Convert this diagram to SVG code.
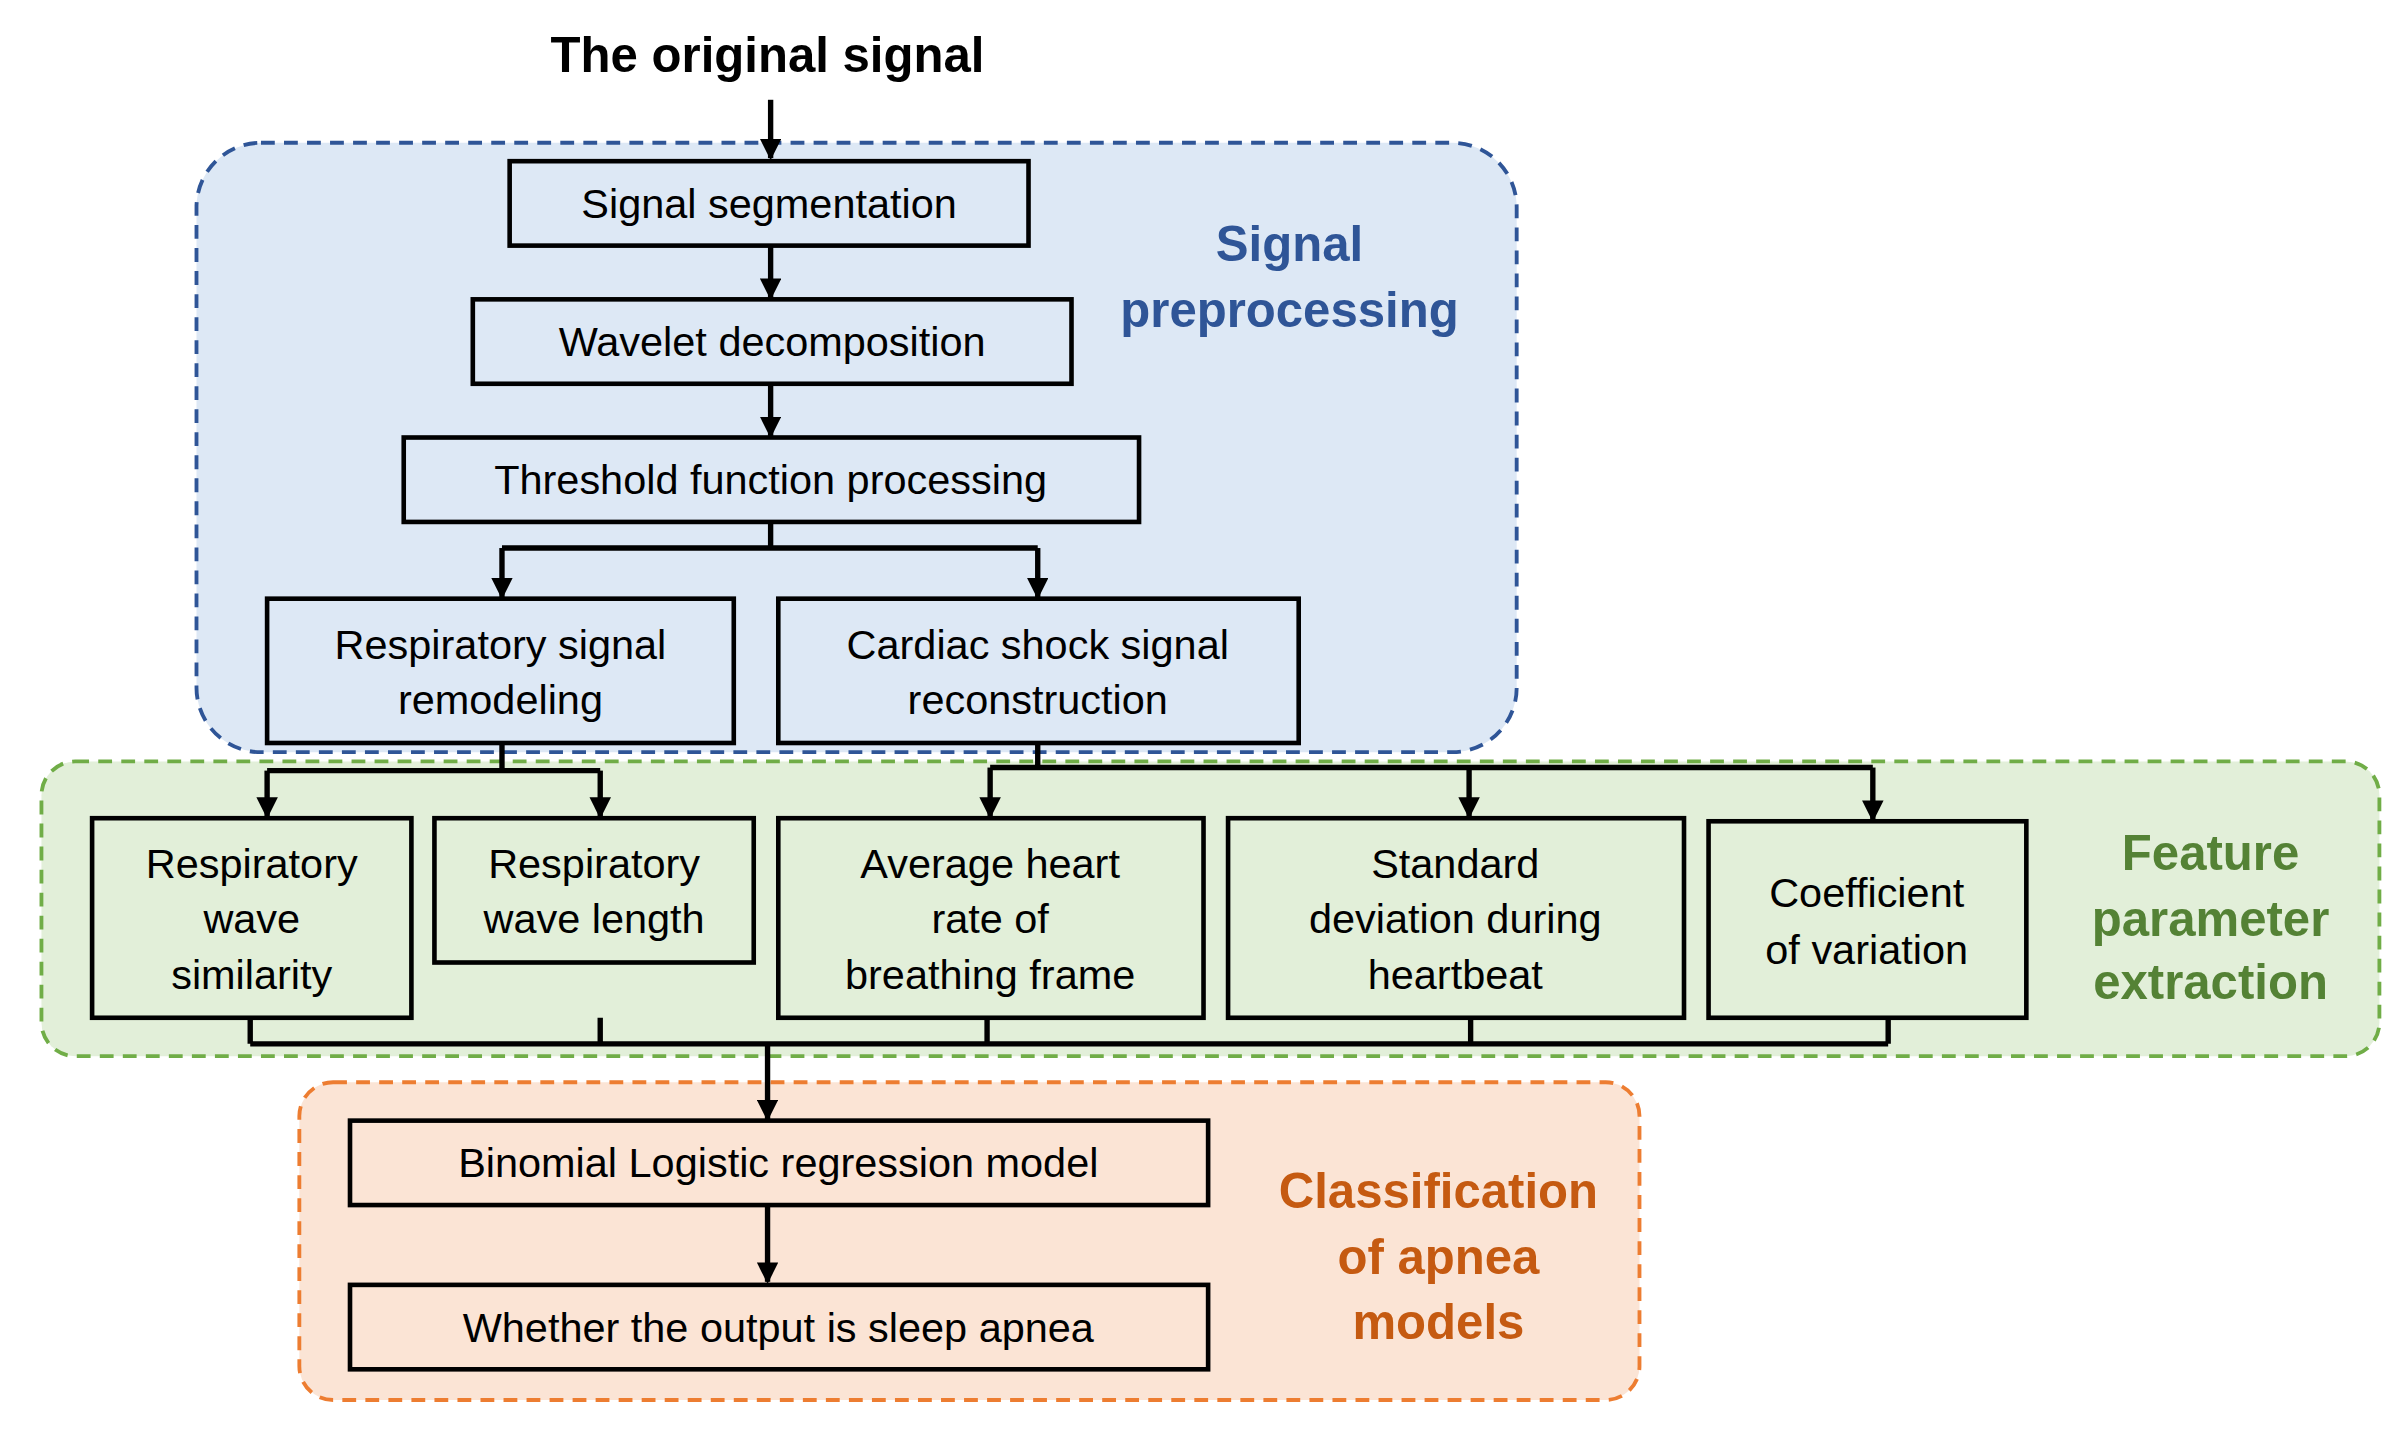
<svg xmlns="http://www.w3.org/2000/svg" width="2407" height="1435" viewBox="0 0 2407 1435">
<defs>
<marker id="ah" viewBox="0 0 10 10" refX="9" refY="5" markerWidth="4" markerHeight="4" orient="auto" markerUnits="strokeWidth"><path d="M0,0 L10,5 L0,10 z" fill="#000"/></marker>
<style>
.n rect{stroke:#000;stroke-width:3}
.t{font-family:"Liberation Sans",Arial,sans-serif;font-size:27px;text-anchor:middle;fill:#000}
.lb{font-family:"Liberation Sans",Arial,sans-serif;font-size:32px;font-weight:bold;text-anchor:middle}
.c path{fill:none;stroke:#000;stroke-width:3.5}
.a{marker-end:url(#ah)}
</style>
</defs>
<rect width="2407" height="1435" fill="#fff"/>
<g transform="scale(1.5351)">
<g id="region-pre"><rect x="128" y="93" width="860" height="397" rx="42" fill="#dde8f5" stroke="#2f5597" stroke-width="2.5" stroke-dasharray="9,6"/>
<text class="lb" fill="#2f5597" x="840" y="170">Signal</text><text class="lb" fill="#2f5597" x="840" y="213">preprocessing</text></g>
<g id="region-feat"><rect x="27" y="496" width="1523" height="192" rx="22" fill="#e2efd9" stroke="#70ad47" stroke-width="2.5" stroke-dasharray="9,6"/>
<text class="lb" fill="#548235" x="1440" y="567">Feature</text><text class="lb" fill="#548235" x="1440" y="610">parameter</text><text class="lb" fill="#548235" x="1440" y="651">extraction</text></g>
<g id="region-cls"><rect x="195" y="705" width="873" height="207" rx="22" fill="#fbe4d5" stroke="#ed7d31" stroke-width="2.5" stroke-dasharray="9,6"/>
<text class="lb" fill="#c55a11" x="937" y="787">Classification</text><text class="lb" fill="#c55a11" x="937" y="830">of apnea</text><text class="lb" fill="#c55a11" x="937" y="872">models</text></g>
<g id="title"><text class="lb" fill="#000" x="500" y="47">The original signal</text></g>
<g class="c" id="connectors">
<path class="a" d="M502,65 V103"/>
<path class="a" d="M502,160 V194"/>
<path class="a" d="M502,250 V284"/>
<path d="M502,340 V357 M327,357 H676"/>
<path class="a" d="M327,357 V389"/><path class="a" d="M676,357 V389"/>
<path d="M327,484 V502 M174,502 H391 M676,484 V500 M645,500 H1220"/>
<path class="a" d="M174,502 V532"/><path class="a" d="M391,502 V532"/>
<path class="a" d="M645,500 V532"/><path class="a" d="M957,500 V532"/><path class="a" d="M1220,500 V534"/>
<path d="M163,663 V680 M391,663 V680 M643,663 V680 M958,663 V680 M1230,663 V680 M163,680 H1230"/>
<path class="a" d="M500,680 V729"/>
<path class="a" d="M500,785 V835"/>
</g>
<g class="n" id="n1"><rect x="332" y="105" width="338" height="55" fill="#dde8f5"/><text class="t" x="501" y="142">Signal segmentation</text></g>
<g class="n" id="n2"><rect x="308" y="195" width="390" height="55" fill="#dde8f5"/><text class="t" x="503" y="232">Wavelet decomposition</text></g>
<g class="n" id="n3"><rect x="263" y="285" width="479" height="55" fill="#dde8f5"/><text class="t" x="502" y="322">Threshold function processing</text></g>
<g class="n" id="n4"><rect x="174" y="390" width="304" height="94" fill="#dde8f5"/><text class="t" x="326" y="429">Respiratory signal</text><text class="t" x="326" y="465">remodeling</text></g>
<g class="n" id="n5"><rect x="507" y="390" width="339" height="94" fill="#dde8f5"/><text class="t" x="676" y="429">Cardiac shock signal</text><text class="t" x="676" y="465">reconstruction</text></g>
<g class="n" id="n6"><rect x="60" y="533" width="208" height="130" fill="#e2efd9"/><text class="t" x="164" y="572">Respiratory</text><text class="t" x="164" y="608">wave</text><text class="t" x="164" y="644">similarity</text></g>
<g class="n" id="n7"><rect x="283" y="533" width="208" height="94" fill="#e2efd9"/><text class="t" x="387" y="572">Respiratory</text><text class="t" x="387" y="608">wave length</text></g>
<g class="n" id="n8"><rect x="507" y="533" width="277" height="130" fill="#e2efd9"/><text class="t" x="645" y="572">Average heart</text><text class="t" x="645" y="608">rate of</text><text class="t" x="645" y="644">breathing frame</text></g>
<g class="n" id="n9"><rect x="800" y="533" width="297" height="130" fill="#e2efd9"/><text class="t" x="948" y="572">Standard</text><text class="t" x="948" y="608">deviation during</text><text class="t" x="948" y="644">heartbeat</text></g>
<g class="n" id="n10"><rect x="1113" y="535" width="207" height="128" fill="#e2efd9"/><text class="t" x="1216" y="591">Coefficient</text><text class="t" x="1216" y="628">of variation</text></g>
<g class="n" id="n11"><rect x="228" y="730" width="559" height="55" fill="#fbe4d5"/><text class="t" x="507" y="767">Binomial Logistic regression model</text></g>
<g class="n" id="n12"><rect x="228" y="837" width="559" height="55" fill="#fbe4d5"/><text class="t" x="507" y="874">Whether the output is sleep apnea</text></g>
</g>
</svg>
